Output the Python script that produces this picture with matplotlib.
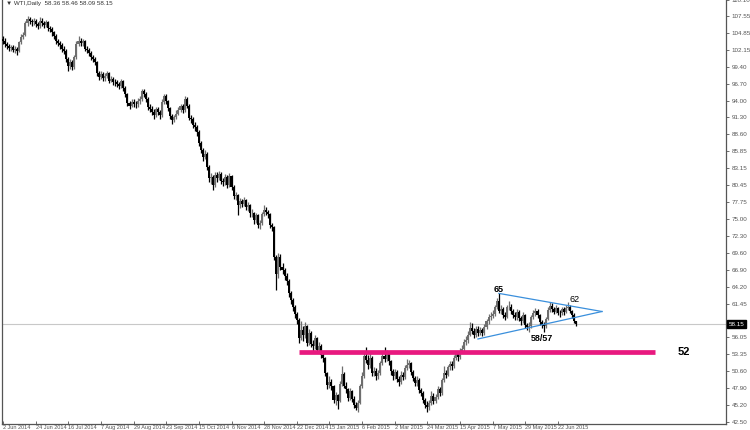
import matplotlib
matplotlib.use("Agg")
import matplotlib.pyplot as plt
import matplotlib.transforms as mtransforms
import numpy as np

# WTI daily bars
first_open = 103.9
close = [
    103.6, 103.0, 102.7, 102.4, 102.5, 102.1, 102.3, 101.9, 103.4, 104.2,
    104.5, 106.4, 107.0, 106.8, 106.5, 106.7, 106.2, 105.9, 106.8, 106.4,
    106.1, 106.5, 105.6, 105.4, 104.9, 104.4, 103.5, 103.2, 102.9, 102.3,
    102.0, 100.6, 99.5, 100.2, 99.3, 100.9, 103.1, 103.6, 103.2, 103.5,
    102.3, 102.1, 101.6, 100.9, 100.7, 100.2, 98.4, 97.8, 98.2, 97.6,
    97.9, 98.4, 97.2, 97.5, 97.0, 96.9, 96.6, 96.3, 97.1, 96.0,
    95.0, 93.6, 93.2, 93.8, 93.5, 93.4, 93.9, 94.2, 95.5, 95.0,
    94.3, 93.0, 92.7, 92.2, 91.6, 92.6, 92.1, 91.6, 93.8, 94.7,
    93.9, 92.8, 91.5, 90.8, 91.3, 91.9, 92.5, 93.1, 92.4, 94.3,
    93.2, 91.2, 91.0, 90.1, 89.7, 88.9, 87.2, 86.1, 85.0, 85.5,
    83.4, 81.6, 81.8, 80.4, 82.0, 81.6, 82.3, 81.1, 80.9, 81.8,
    80.5, 81.9, 80.1, 78.7, 78.8, 77.2, 77.9, 77.5, 78.1, 76.9,
    77.3, 75.9, 76.0, 74.8, 75.6, 74.1, 74.4, 75.8, 76.4, 76.1,
    75.8, 74.0, 73.7, 68.9, 66.2, 69.0, 67.4, 66.8, 65.9, 65.1,
    63.2, 62.0, 60.9, 59.8, 58.9, 55.9, 57.3, 56.4, 57.9, 55.2,
    56.8, 55.0, 54.6, 55.9, 54.1, 54.7, 53.2, 52.7, 50.3, 48.4,
    48.9, 48.2, 46.1, 46.8, 45.9, 48.6, 50.2, 48.3, 47.8, 46.4,
    47.5, 46.2, 45.3, 44.8, 45.6, 48.2, 49.9, 53.1, 52.4, 51.6,
    52.8, 50.4, 50.7, 49.9, 50.3, 51.9, 53.1, 52.6, 53.5, 52.2,
    50.6, 49.8, 50.5, 49.4, 48.9, 50.1, 49.7, 51.2, 51.7, 51.9,
    50.5, 49.6, 48.7, 49.3, 47.6, 47.2, 46.0, 45.3, 44.9, 45.6,
    46.7, 45.9, 46.5, 47.8, 47.1, 49.2, 50.4, 50.0, 51.3, 51.8,
    51.5, 52.8, 53.4, 52.9, 53.9, 54.2, 55.3, 55.6, 56.5, 57.6,
    57.1, 56.5, 57.4, 56.7, 57.2, 56.8, 57.7, 58.6, 59.3, 59.5,
    59.8, 60.9, 61.9, 60.3, 60.6, 59.6, 59.4, 60.9, 61.0, 60.3,
    59.7, 59.3, 60.2, 59.1, 58.7, 59.6, 58.0, 57.7, 57.9, 59.3,
    59.9, 60.3, 59.6, 58.5, 58.0, 57.8, 59.0, 60.5, 61.1, 60.6,
    60.2, 60.8, 60.0, 59.9, 60.6, 60.1, 60.7, 61.0, 60.3, 59.7,
    58.6, 58.15,
]
high = [
    104.3, 104.0, 103.4, 103.1, 102.9, 102.9, 102.7, 102.6, 103.6, 104.6,
    105.0, 106.8, 107.6, 107.4, 107.1, 107.2, 107.0, 106.6, 107.3, 107.2,
    106.8, 106.9, 106.7, 106.0, 105.7, 105.2, 104.6, 103.9, 103.6, 103.2,
    102.8, 102.2, 100.9, 100.7, 100.5, 101.3, 103.5, 104.3, 104.0, 103.9,
    103.7, 102.8, 102.4, 101.9, 101.3, 101.0, 100.4, 98.8, 98.7, 98.5,
    98.4, 98.8, 98.6, 97.9, 97.8, 97.5, 97.3, 97.0, 97.5, 97.3,
    96.3, 95.2, 94.0, 94.3, 94.2, 94.0, 94.4, 94.7, 95.9, 95.8,
    95.3, 94.5, 93.4, 93.1, 92.6, 93.0, 93.0, 92.5, 94.2, 95.0,
    95.0, 94.1, 93.0, 91.8, 91.7, 92.4, 92.9, 93.5, 93.4, 94.7,
    94.5, 93.4, 91.7, 91.3, 90.5, 90.0, 89.2, 87.5, 86.4, 86.1,
    85.7, 83.7, 82.4, 82.1, 82.5, 82.6, 82.7, 82.5, 81.6, 82.2,
    82.0, 82.4, 82.1, 80.4, 79.3, 79.0, 78.4, 78.3, 78.6, 78.3,
    77.8, 77.5, 76.6, 76.2, 76.0, 75.8, 74.9, 76.2, 77.3, 76.9,
    76.5, 76.0, 74.4, 73.9, 69.3, 69.6, 69.4, 67.9, 67.2, 66.3,
    65.4, 63.5, 62.3, 61.2, 60.2, 59.2, 58.6, 57.8, 58.5, 58.1,
    57.4, 57.1, 55.7, 56.5, 56.1, 55.3, 55.0, 53.6, 52.9, 50.5,
    49.8, 49.4, 48.4, 47.3, 47.0, 49.1, 51.4, 50.5, 48.9, 48.0,
    47.9, 47.7, 46.6, 45.7, 46.0, 48.6, 50.5, 53.6, 54.5, 53.2,
    53.9, 53.0, 51.3, 51.1, 50.9, 52.3, 53.6, 54.5, 54.0, 53.8,
    52.4, 51.0, 51.0, 50.8, 49.9, 50.6, 50.5, 51.6, 52.6, 52.4,
    52.1, 50.9, 49.9, 49.8, 49.5, 48.0, 47.5, 46.4, 45.8, 46.1,
    47.4, 47.1, 47.0, 48.2, 48.1, 49.6, 51.4, 50.9, 51.7, 52.3,
    52.2, 53.3, 53.9, 53.8, 54.3, 54.9, 55.8, 56.3, 57.1, 58.5,
    58.3, 57.6, 57.9, 57.8, 57.7, 57.6, 58.2, 59.0, 59.8, 60.1,
    60.4, 61.3, 62.3, 63.1, 61.2, 60.9, 60.1, 61.3, 61.9, 61.4,
    60.6, 60.2, 60.6, 60.4, 59.5, 60.1, 59.8, 58.4, 58.5, 59.7,
    60.5, 60.8, 60.6, 59.8, 58.9, 58.5, 59.4, 60.9, 61.8, 61.5,
    61.0, 61.2, 61.0, 60.5, 61.0, 60.9, 61.2, 61.7, 61.3, 60.5,
    59.9, 58.7,
]
low = [
    103.1, 102.6, 102.2, 101.9, 101.9, 101.7, 101.6, 101.3, 101.7, 103.1,
    103.8, 104.3, 106.0, 106.3, 106.0, 106.1, 105.8, 105.4, 105.6, 105.9,
    105.6, 105.7, 105.2, 104.9, 104.4, 103.9, 103.1, 102.7, 102.3, 101.8,
    101.5, 100.1, 98.7, 99.0, 98.9, 99.1, 100.7, 102.8, 102.7, 102.8,
    101.9, 101.6, 101.1, 100.5, 100.2, 99.7, 97.9, 97.3, 97.4, 97.1,
    97.2, 97.6, 96.8, 96.9, 96.5, 96.4, 96.1, 95.8, 96.0, 95.5,
    94.5, 93.2, 92.6, 92.9, 93.0, 92.8, 93.0, 93.5, 94.0, 94.6,
    93.8, 92.5, 92.2, 91.7, 91.1, 91.3, 91.6, 91.1, 91.4, 93.5,
    93.4, 92.3, 91.0, 90.2, 90.5, 91.0, 91.6, 92.1, 92.0, 92.2,
    92.8, 90.8, 90.4, 89.6, 89.1, 88.3, 86.7, 85.6, 84.3, 84.7,
    82.9, 80.9, 80.6, 79.6, 80.1, 81.0, 81.2, 80.6, 80.3, 80.5,
    80.0, 80.2, 79.6, 78.3, 78.1, 75.7, 76.8, 77.0, 77.1, 76.4,
    76.3, 75.4, 75.3, 74.2, 74.4, 73.5, 73.4, 74.1, 75.5, 75.6,
    75.2, 73.6, 73.1, 68.4, 63.7, 65.6, 66.8, 66.2, 65.2, 64.5,
    62.6, 61.4, 60.3, 59.1, 58.2, 55.2, 55.6, 55.5, 56.0, 54.6,
    54.9, 54.5, 53.9, 54.2, 53.6, 53.5, 52.7, 52.1, 49.8, 47.8,
    47.9, 47.6, 45.6, 45.3, 44.6, 45.7, 48.3, 47.9, 47.2, 45.9,
    46.0, 45.7, 44.8, 44.4, 44.1, 45.4, 47.9, 49.6, 51.9, 51.0,
    51.2, 49.9, 49.8, 49.3, 49.4, 50.0, 51.6, 52.1, 52.2, 51.7,
    50.1, 49.2, 49.4, 48.9, 48.3, 48.6, 49.2, 49.4, 50.9, 51.2,
    50.0, 49.1, 48.2, 48.3, 47.1, 46.6, 45.5, 44.8, 44.1, 44.5,
    45.3, 45.4, 45.5, 46.2, 46.6, 46.9, 48.9, 49.5, 49.8, 50.9,
    50.9, 51.2, 52.4, 52.3, 52.6, 53.5, 53.9, 54.9, 55.2, 56.2,
    56.6, 56.0, 56.1, 56.2, 56.4, 56.3, 56.5, 57.4, 58.2, 58.9,
    59.1, 59.5, 60.6, 60.0, 59.8, 59.1, 58.9, 59.2, 60.5, 59.8,
    59.2, 58.8, 58.9, 58.6, 58.1, 58.4, 57.6, 57.2, 56.9, 57.6,
    59.0, 59.5, 59.2, 58.1, 57.6, 56.9, 57.5, 58.8, 60.1, 60.2,
    59.8, 59.9, 59.6, 59.4, 59.6, 59.7, 59.9, 60.4, 59.9, 59.2,
    58.3, 57.9,
]

price_ticks = [42.50, 45.20, 47.90, 50.60, 53.35, 56.05, 58.75, 61.45, 64.20,
               66.90, 69.60, 72.30, 75.00, 77.75, 80.45, 83.15, 85.85, 88.60,
               91.30, 94.00, 96.70, 99.40, 102.15, 104.85, 107.55, 110.10]
date_labels = ["2 Jun 2014", "24 Jun 2014", "16 Jul 2014", "7 Aug 2014",
               "29 Aug 2014", "23 Sep 2014", "15 Oct 2014", "6 Nov 2014",
               "28 Nov 2014", "22 Dec 2014", "15 Jan 2015", "6 Feb 2015",
               "2 Mar 2015", "24 Mar 2015", "15 Apr 2015", "7 May 2015",
               "29 May 2015", "22 Jun 2015"]

support_level = 53.7
support_range = (145.1, 319.6)
tri_upper = [(243.1, 63.1), (293.6, 60.2)]
tri_lower = [(232.8, 55.8), (293.6, 60.2)]
last_price = 58.15

close = np.array(close)
high = np.array(high)
low = np.array(low)
open_ = np.concatenate([[first_open], close[:-1]])
idx = np.arange(len(close))

plt.rcParams["font.family"] = ["Liberation Sans", "DejaVu Sans"]

fig = plt.figure(figsize=(7.5, 4.3), dpi=100)
ax = fig.add_axes([2 / 750, 6 / 430, 724 / 750, 424 / 430])

bull = close >= open_
cols = np.where(bull, "#6e6e6e", "#000000")
ax.vlines(idx, low, high, colors=cols, linewidth=0.9, zorder=3)
body_lo = np.minimum(open_, close)
body_h = np.maximum(np.abs(close - open_), 0.08)
ax.bar(idx, body_h, bottom=body_lo, width=1.0, color=cols, linewidth=0, zorder=3)

# current price line
ax.axhline(last_price, color="#c8c8c8", linewidth=0.8, zorder=1)

# support line
ax.hlines(support_level, support_range[0], support_range[1], color="#e8197f",
          linewidth=3.4, zorder=4)
ax.text(333.5, support_level, "52", fontsize=8, fontweight="bold",
        va="center", ha="center", zorder=5)

# triangle
for seg in (tri_upper, tri_lower):
    xs, ys = zip(*seg)
    ax.plot(xs, ys, color="#3a8fdc", linewidth=0.9, zorder=4)
ax.text(243.1, 63.8, "65", fontsize=6.5, fontweight="bold", ha="center", va="center")
ax.text(280.0, 62.2, "62", fontsize=6.5, ha="center", va="center")
ax.text(264.3, 55.9, "58/57", fontsize=6.5, fontweight="bold", ha="center", va="center")

ax.set_xlim(-0.5, 354.4)
ax.set_ylim(42.18, 110.07)

ax.yaxis.tick_right()
ax.set_yticks(price_ticks)
# the 58.75 label sits under the price tag
ax.set_yticklabels(["" if v == 58.75 else f"{v:.2f}" for v in price_ticks])
ax.tick_params(axis="y", labelsize=4.5, colors="#555555", length=2.5, width=0.6, pad=1.5)

ax.set_xticks(idx[::16][:len(date_labels)])
ax.set_xticklabels(date_labels, ha="left")
ax.tick_params(axis="x", labelsize=4, colors="#555555", length=2, width=0.6, pad=0.5,
               direction="in")

for side in ("left", "right", "bottom"):
    ax.spines[side].set_color("#555555")
    ax.spines[side].set_linewidth(0.9)
ax.spines["top"].set_visible(False)

# price tag on the axis
trans = mtransforms.blended_transform_factory(ax.transAxes, ax.transData)
ax.text(1.004, last_price, f"{last_price:.2f}", transform=trans, fontsize=4.5,
        color="white", va="center", ha="left", clip_on=False, zorder=10,
        bbox=dict(boxstyle="square,pad=0.25", fc="black", ec="black"))

ax.text(0.006, 0.997, "\u25bc WTI,Daily  58.36 58.46 58.09 58.15", transform=ax.transAxes,
        fontsize=4.5, color="#333333", va="top", ha="left")

fig.savefig("out.png", dpi=100)
